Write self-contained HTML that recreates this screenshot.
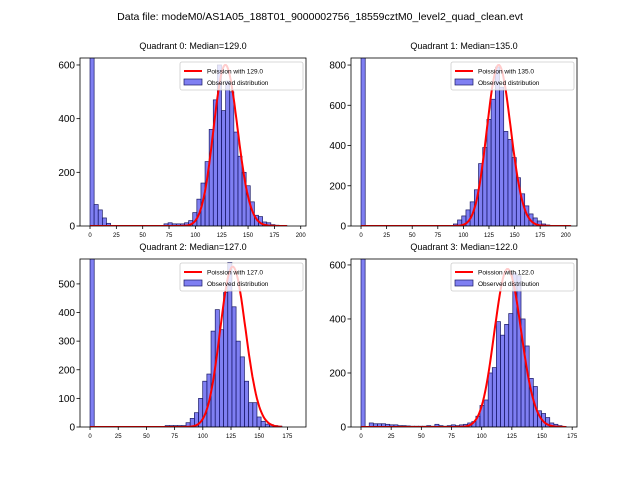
<!DOCTYPE html>
<html><head><meta charset="utf-8"><style>
body{margin:0;background:#fff;font-family:"Liberation Sans","DejaVu Sans",sans-serif}
svg{display:block}
</style></head><body>
<svg id="c" width="640" height="480" xmlns="http://www.w3.org/2000/svg">
<text x="320" y="20" font-size="10.5" text-anchor="middle">Data file: modeM0/AS1A05_188T01_9000002756_18559cztM0_level2_quad_clean.evt</text>
</svg>
<script>
const titles=["Quadrant 0: Median=129.0","Quadrant 1: Median=135.0","Quadrant 2: Median=127.0","Quadrant 3: Median=122.0"];
const medians=[129.0,135.0,127.0,122.0];
const peaks=[600,800,560,585];
const binWidths=[3.9,4.1,3.7,3.4];
const counts0=[700,80,60,30,10,2,1,1,1,1,1,1,1,1,1,1,1,1,8,12,8,8,8,12,20,50,100,160,240,360,470,600,430,540,500,350,260,200,150,90,40,35,15,12,5,3,2,1];
const counts1=[900,1,1,1,1,1,1,1,1,1,1,1,1,1,1,1,1,1,1,1,1,1,10,30,50,80,120,180,310,390,530,630,790,690,470,430,340,240,160,100,60,40,25,10,5,3,2,2,2,2];
const counts2=[700,0,0,0,0,0,0,0,0,0,0,0,0,0,0,0,0,0,5,5,5,5,5,15,30,50,100,160,185,335,410,340,470,575,420,300,245,160,85,85,35,20,10,8,5,3];
const counts3=[700,0,15,12,12,12,10,8,8,5,5,4,3,3,3,3,5,3,10,5,3,5,8,5,8,10,15,20,40,80,100,200,220,390,340,380,420,570,560,400,300,180,150,60,50,35,15,10,5,2];
const allCounts=[counts0,counts1,counts2,counts3];
const xTicks=[[0,25,50,75,100,125,150,175,200],[0,25,50,75,100,125,150,175,200],[0,25,50,75,100,125,150,175],[0,25,50,75,100,125,150,175]];
const yTicks=[[0,200,400,600],[0,200,400,600,800],[0,100,200,300,400,500],[0,200,400,600]];
const xDomains=[[-9.5,205],[-9.8,211],[-8.9,191.5],[-8.3,179]];
const yMax=[626,835,587,622];
const boxes=[[80,58,306,226],[351,58,577,226],[80,259,306,427],[351,259,577,427]];
const svg=document.getElementById('c');
const NS='http://www.w3.org/2000/svg';
function mk(t,a,p){const e=document.createElementNS(NS,t);for(const k in a)e.setAttribute(k,a[k]);(p||svg).appendChild(e);return e;}
function lgamma(n){let s=0;for(let i=2;i<=n;i++)s+=Math.log(i);return s;}
for(let q=0;q<4;q++){
  const [L,T,R,B]=boxes[q];
  const g=mk('g',{});
  
  
  const xs=v=>L+(v-xDomains[q][0])/(xDomains[q][1]-xDomains[q][0])*(R-L);
  const ys=v=>B-Math.min(v,yMax[q]*1.02)/yMax[q]*(B-T);
  const clip=mk('clipPath',{id:'cl'+q},g);mk('rect',{x:L,y:T,width:R-L,height:B-T},clip);
  const bars=mk('g',{'clip-path':'url(#cl'+q+')'},g);
  allCounts[q].forEach((c,i)=>{
    if(c<=0)return;
    const x0=xs(i*binWidths[q]),x1=xs((i+1)*binWidths[q]);
    const r=mk('rect',{x:x0,y:ys(c),width:x1-x0,height:B-ys(c),fill:'rgba(0,0,230,0.5)',stroke:'#1a1a66','stroke-width':0.7},bars);
    
    
  });
  const lam=medians[q];const lp=(lam*Math.log(lam)-lam-lgamma(Math.round(lam)));
  let d='';
  for(let k=0;k<=Math.round(allCounts[q].length*binWidths[q]);k++){
    const v=Math.exp(k*Math.log(lam)-lam-lgamma(k)-lp)*peaks[q];
    d+=(k?'L':'M')+xs(k).toFixed(1)+','+ys(v).toFixed(1);
  }
  const pl=mk('path',{d:d,fill:'none',stroke:'red','stroke-width':2},bars);
  
  
  mk('rect',{x:L,y:T,width:R-L,height:B-T,fill:'none',stroke:'#000','stroke-width':0.8},g);
  xTicks[q].forEach(v=>{const x=xs(v);mk('line',{x1:x,x2:x,y1:B,y2:B+3,stroke:'#000','stroke-width':0.8},g);
    const t=mk('text',{x:x,y:B+11,'font-size':6,'text-anchor':'middle'},g);t.textContent=v;
    });
  yTicks[q].forEach(v=>{const y=ys(v);mk('line',{x1:L,x2:L-3.5,y1:y,y2:y,stroke:'#000','stroke-width':0.8},g);
    const t=mk('text',{x:L-5,y:y+3.5,'font-size':10,'text-anchor':'end'},g);t.textContent=v;
    });
  const tt=mk('text',{x:(L+R)/2,y:T-9,'font-size':9,'text-anchor':'middle'},g);tt.textContent=titles[q];
  
  const lg=mk('g',{},g);
  
  
  const lx=R-126,ly=T+4;
  mk('rect',{x:lx,y:ly,width:123,height:28,rx:2,fill:'rgba(255,255,255,0.8)',stroke:'#ccc','stroke-width':0.8},lg);
  mk('line',{x1:lx+4,x2:lx+22,y1:ly+9,y2:ly+9,stroke:'red','stroke-width':2},lg);
  const l1=mk('text',{x:lx+27,y:ly+11.5,'font-size':6.5},lg);l1.textContent='Poission with '+medians[q].toFixed(1);
  mk('rect',{x:lx+4,y:ly+17,width:18,height:6,fill:'rgba(0,0,230,0.5)',stroke:'#1a1a66','stroke-width':0.7},lg);
  const l2=mk('text',{x:lx+27,y:ly+23,'font-size':6.5},lg);l2.textContent='Observed distribution';
}
</script>
</body></html>
